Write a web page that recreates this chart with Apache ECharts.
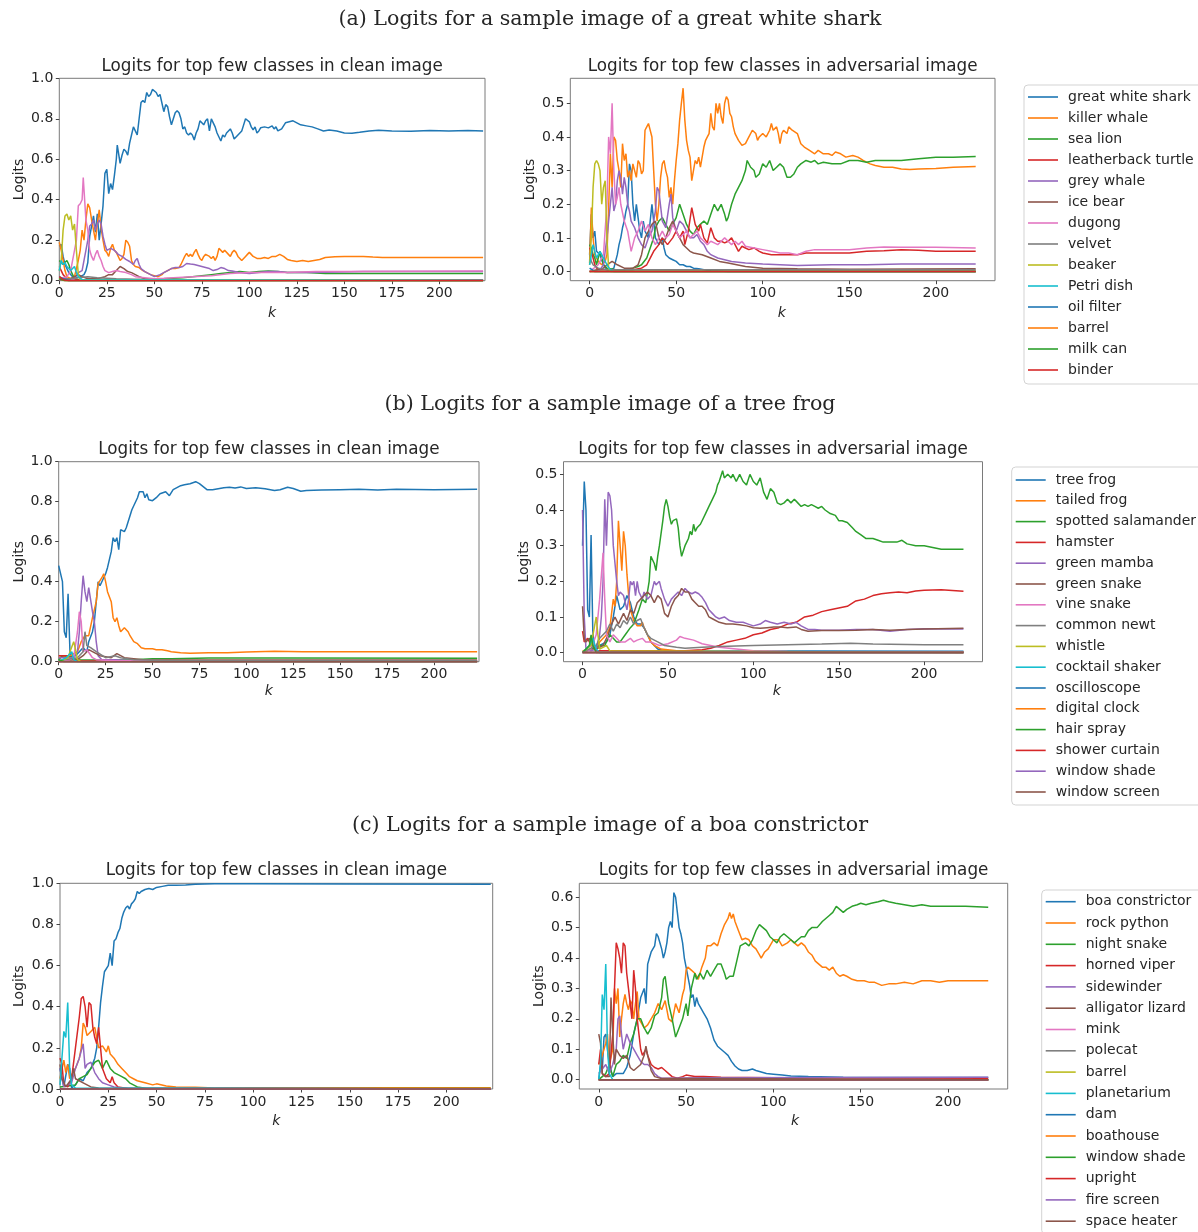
<!DOCTYPE html>
<html><head><meta charset="utf-8">
<script src="https://cdn.jsdelivr.net/npm/echarts@6/dist/echarts.min.js"></script>
<style>html,body{margin:0;padding:0;background:#fff;width:1198px;height:1232px;overflow:hidden}
.row{position:absolute;left:0;top:0;width:1198px;height:1232px;}
#rc{height:1400px;}</style>
</head><body>
<div id="ra" class="row"></div><div id="rb" class="row"></div><div id="rc" class="row"></div>
<script>
// ---------------- Row (a): great white shark ----------------
const aNames = ['great white shark','killer whale','sea lion','leatherback turtle','grey whale','ice bear','dugong','velvet','beaker','Petri dish','oil filter','barrel','milk can','binder'];
const aClean_greatWhiteShark = [[0,0.17],[1,0.18],[2,0.12],[3,0.08],[5,0.04],[7,0.02],[9,0.015],[11,0.02],[13,0.03],[14,0.05],[15,0.09],[16,0.22],[17,0.27],[18,0.32],[19,0.24],[20,0.33],[21,0.2],[22,0.28],[23,0.37],[24,0.53],[25,0.55],[26,0.43],[27,0.48],[28,0.45],[29,0.52],[30,0.6],[30.5,0.67],[31,0.64],[32,0.58],[33,0.62],[34,0.65],[35,0.64],[36,0.62],[37,0.68],[38,0.72],[39,0.76],[40,0.74],[41,0.72],[42,0.8],[43,0.88],[44,0.89],[45,0.88],[46,0.93],[47,0.91],[48,0.92],[49,0.945],[50,0.94],[51,0.93],[52,0.91],[53,0.92],[54,0.92],[55,0.835],[56,0.87],[57,0.86],[58,0.81],[59,0.77],[60,0.8],[61,0.83],[62,0.84],[63,0.83],[64,0.8],[65,0.75],[66,0.76],[67,0.73],[68,0.72],[69,0.73],[70,0.72],[71,0.695],[72,0.73],[73,0.75],[74,0.79],[75,0.78],[76,0.77],[77,0.79],[78,0.8],[79,0.74],[80,0.8],[81,0.78],[82,0.76],[83,0.73],[84,0.71],[85,0.69],[86,0.72],[87,0.71],[88,0.73],[89,0.74],[90,0.75],[91,0.73],[92,0.7],[93,0.71],[94,0.72],[95,0.73],[96,0.74],[97,0.77],[98,0.8],[99,0.8],[100,0.785],[101,0.76],[102,0.745],[103,0.76],[104,0.73],[105,0.74],[106,0.756],[108,0.76],[110,0.755],[112,0.765],[113,0.75],[114,0.76],[115,0.74],[117,0.75],[119,0.78],[121,0.785],[123,0.79],[125,0.78],[127,0.77],[130,0.765],[133,0.76],[136,0.75],[139,0.74],[142,0.745],[146,0.74],[150,0.73],[154,0.728],[158,0.733],[163,0.74],[168,0.743],[175,0.74],[185,0.738],[195,0.742],[205,0.74],[215,0.742],[223,0.74]];
const aClean_killerWhale = [[0,0.19],[1,0.15],[2,0.1],[3,0.05],[4,0.02],[6,0.01],[8,0.02],[10,0.1],[11,0.15],[12,0.25],[13,0.2],[14,0.3],[15,0.38],[16,0.36],[17,0.3],[18,0.25],[19,0.2],[20,0.28],[21,0.35],[22,0.26],[23,0.2],[24,0.15],[25,0.14],[26,0.12],[27,0.16],[28,0.18],[29,0.15],[30,0.14],[31,0.12],[32,0.1],[33,0.11],[34,0.13],[35,0.2],[36,0.19],[37,0.17],[38,0.1],[39,0.08],[40,0.07],[42,0.065],[44,0.05],[46,0.04],[48,0.03],[50,0.025],[52,0.02],[54,0.03],[55,0.04],[57,0.05],[59,0.06],[61,0.06],[63,0.065],[64,0.08],[65,0.1],[66,0.12],[67,0.135],[68,0.12],[69,0.13],[70,0.12],[71,0.14],[72,0.155],[73,0.13],[74,0.11],[75,0.1],[76,0.12],[77,0.13],[78,0.135],[79,0.12],[80,0.11],[81,0.12],[82,0.1],[83,0.12],[84,0.16],[85,0.155],[86,0.14],[87,0.15],[88,0.145],[89,0.13],[90,0.12],[91,0.14],[92,0.15],[93,0.14],[94,0.12],[95,0.11],[96,0.1],[97,0.11],[98,0.12],[99,0.13],[100,0.14],[101,0.13],[102,0.12],[103,0.115],[104,0.11],[106,0.11],[108,0.115],[110,0.11],[112,0.12],[114,0.12],[116,0.13],[118,0.12],[120,0.105],[122,0.1],[125,0.095],[128,0.1],[131,0.095],[134,0.1],[137,0.105],[140,0.115],[145,0.118],[150,0.12],[155,0.12],[160,0.12],[165,0.117],[170,0.115],[180,0.115],[190,0.115],[200,0.115],[210,0.115],[223,0.115]];
const aClean_seaLion = [[0,0.1],[1,0.09],[2,0.08],[3,0.09],[4,0.1],[5,0.08],[6,0.05],[7,0.03],[8,0.01],[10,0.005],[20,0.005],[30,0.005],[40,0.005],[50,0.008],[55,0.01],[60,0.012],[65,0.015],[70,0.02],[75,0.025],[80,0.03],[85,0.035],[90,0.04],[95,0.045],[100,0.04],[105,0.045],[110,0.048],[115,0.045],[120,0.04],[130,0.04],[140,0.035],[150,0.035],[170,0.035],[200,0.035],[223,0.035]];
const aClean_leatherbackTurtle = [[0,0.07],[1,0.05],[2,0.03],[3,0.02],[4,0.01],[6,0.005],[20,0.003],[223,0.002]];
const aClean_greyWhale = [[0,0.005],[8,0.01],[10,0.04],[12,0.05],[13,0.1],[14,0.15],[15,0.2],[16,0.27],[17,0.28],[18,0.3],[19,0.25],[20,0.28],[21,0.3],[22,0.28],[23,0.22],[24,0.18],[25,0.15],[26,0.155],[27,0.16],[29,0.15],[31,0.13],[33,0.12],[35,0.105],[37,0.095],[39,0.08],[40,0.1],[41,0.11],[42,0.08],[43,0.06],[45,0.045],[47,0.035],[50,0.02],[53,0.03],[55,0.04],[57,0.05],[59,0.06],[61,0.065],[63,0.065],[65,0.07],[67,0.085],[69,0.082],[71,0.08],[73,0.075],[75,0.07],[77,0.065],[79,0.06],[81,0.05],[83,0.055],[85,0.065],[87,0.06],[89,0.05],[91,0.048],[94,0.042],[97,0.038],[100,0.035],[105,0.04],[110,0.045],[115,0.045],[120,0.04],[130,0.04],[140,0.042],[160,0.045],[190,0.045],[223,0.045]];
const aClean_iceBear = [[0,0.005],[6,0.01],[8,0.02],[10,0.03],[12,0.02],[15,0.01],[20,0.01],[24,0.02],[26,0.03],[28,0.03],[30,0.05],[32,0.07],[34,0.06],[36,0.045],[38,0.04],[40,0.03],[42,0.02],[45,0.01],[50,0.005],[223,0.005]];
const aClean_dugong = [[0,0.01],[4,0.02],[6,0.05],[7,0.1],[8,0.15],[9,0.2],[10,0.37],[11,0.38],[12,0.4],[12.6,0.51],[13,0.45],[14,0.3],[15,0.25],[16,0.15],[17,0.12],[18,0.1],[19,0.13],[20,0.15],[21,0.12],[22,0.1],[23,0.07],[24,0.05],[26,0.04],[28,0.045],[30,0.05],[32,0.045],[35,0.04],[38,0.03],[40,0.02],[45,0.015],[50,0.01],[55,0.012],[60,0.015],[70,0.02],[80,0.025],[90,0.035],[100,0.04],[110,0.04],[120,0.04],[135,0.045],[150,0.045],[223,0.048]];
const aClean_velvet = [[0,0.01],[5,0.01],[10,0.015],[15,0.02],[20,0.015],[30,0.01],[50,0.005],[223,0.005]];
const aClean_beaker = [[0,0.05],[1,0.1],[2,0.25],[3,0.32],[4,0.33],[5,0.3],[6,0.32],[7,0.25],[8,0.28],[9,0.15],[10,0.03],[11,0.005],[223,0.0]];
const aClean_petriDish = [[0,0.05],[1,0.1],[2,0.08],[3,0.09],[4,0.07],[6,0.05],[8,0.07],[9,0.04],[10,0.02],[12,0.005],[223,0.0]];
const aClean_oilFilter = [[0,0.02],[2,0.01],[5,0.0],[223,0.0]];
const aClean_barrel = [[0,0.01],[3,0.0],[223,0.0]];
const aClean_milkCan = [[0,0.01],[3,0.0],[223,0.0]];
const aClean_binder = [[0,0.02],[2,0.005],[5,0.0],[223,0.0]];

const aAdv_greatWhiteShark = [[0,0.05],[1,0.17],[2,0.1],[3,0.12],[4,0.06],[5,0.06],[6,0.05],[8,0.02],[10,0.005],[12,0.005],[14,0.01],[15,0.03],[16,0.05],[17,0.08],[18,0.1],[19,0.13],[20,0.15],[21,0.18],[22,0.2],[23,0.32],[24,0.3],[25,0.2],[26,0.15],[27,0.2],[28,0.16],[29,0.12],[30,0.1],[31,0.15],[32,0.12],[33,0.11],[34,0.1],[35,0.15],[36,0.2],[37,0.15],[38,0.1],[39,0.09],[40,0.08],[41,0.09],[42,0.1],[43,0.07],[44,0.05],[46,0.04],[48,0.035],[50,0.03],[52,0.02],[54,0.02],[56,0.015],[58,0.015],[60,0.01],[63,0.008],[66,0.005],[70,0.002],[80,0.0],[223,0.0]];
const aAdv_killerWhale = [[0,0.025],[1,0.19],[2,0.1],[3,0.05],[5,0.03],[7,0.02],[9,0.03],[10,0.05],[11,0.19],[12,0.35],[13,0.25],[14,0.4],[15,0.39],[16,0.33],[17,0.3],[18,0.25],[19,0.38],[20,0.33],[21,0.35],[22,0.28],[23,0.3],[24,0.27],[25,0.32],[26,0.3],[27,0.28],[28,0.33],[29,0.32],[30,0.29],[31,0.3],[32,0.42],[33,0.43],[34,0.44],[35,0.44],[36,0.4],[37,0.3],[38,0.2],[39,0.15],[40,0.2],[41,0.28],[42,0.32],[43,0.33],[44,0.3],[45,0.28],[46,0.22],[47,0.25],[48,0.2],[49,0.27],[50,0.33],[51,0.38],[52,0.45],[53,0.5],[54,0.545],[55,0.45],[56,0.39],[57,0.36],[58,0.34],[59,0.27],[60,0.265],[61,0.33],[62,0.32],[63,0.34],[64,0.31],[65,0.34],[66,0.37],[67,0.39],[68,0.4],[69,0.41],[70,0.47],[71,0.43],[72,0.42],[73,0.5],[74,0.47],[75,0.5],[76,0.46],[77,0.44],[78,0.5],[79,0.52],[80,0.51],[81,0.47],[82,0.46],[83,0.43],[84,0.41],[86,0.39],[88,0.375],[90,0.38],[92,0.4],[94,0.42],[96,0.41],[97,0.39],[98,0.4],[100,0.41],[102,0.4],[104,0.42],[105,0.44],[106,0.42],[108,0.43],[109,0.41],[110,0.38],[111,0.41],[112,0.42],[114,0.41],[115,0.43],[117,0.42],[120,0.41],[122,0.38],[124,0.37],[127,0.36],[130,0.35],[132,0.36],[135,0.35],[138,0.35],[140,0.345],[142,0.355],[145,0.35],[148,0.34],[152,0.345],[155,0.34],[158,0.33],[162,0.32],[165,0.315],[170,0.31],[175,0.31],[180,0.305],[185,0.303],[190,0.305],[200,0.306],[210,0.31],[223,0.312]];
const aAdv_seaLion = [[0,0.08],[1,0.07],[2,0.05],[3,0.04],[4,0.02],[5,0.04],[6,0.06],[7,0.04],[8,0.02],[10,0.01],[15,0.005],[20,0.005],[25,0.01],[28,0.015],[30,0.02],[33,0.04],[35,0.07],[37,0.1],[38,0.13],[40,0.15],[42,0.16],[44,0.14],[46,0.12],[48,0.14],[50,0.16],[52,0.2],[54,0.17],[56,0.14],[58,0.12],[60,0.11],[62,0.13],[64,0.14],[66,0.15],[68,0.14],[70,0.17],[72,0.2],[74,0.18],[76,0.2],[78,0.17],[79,0.15],[80,0.16],[82,0.2],[84,0.23],[86,0.25],[88,0.27],[90,0.3],[91,0.33],[93,0.31],[95,0.3],[96,0.28],[98,0.29],[100,0.32],[102,0.31],[104,0.33],[106,0.3],[108,0.31],[110,0.32],[112,0.31],[114,0.28],[116,0.28],[118,0.29],[120,0.31],[122,0.32],[125,0.33],[128,0.325],[130,0.33],[132,0.32],[135,0.325],[140,0.32],[145,0.32],[150,0.33],[155,0.33],[160,0.325],[165,0.33],[170,0.33],[180,0.33],[190,0.335],[200,0.34],[210,0.34],[223,0.342]];
const aAdv_leatherbackTurtle = [[0,0.07],[1,0.06],[2,0.04],[3,0.02],[4,0.01],[6,0.005],[15,0.005],[25,0.005],[30,0.01],[33,0.02],[35,0.04],[37,0.06],[40,0.08],[42,0.1],[45,0.08],[48,0.1],[50,0.12],[52,0.1],[54,0.12],[55,0.08],[57,0.12],[59,0.19],[61,0.14],[63,0.12],[64,0.14],[66,0.1],[68,0.085],[70,0.13],[72,0.1],[74,0.09],[76,0.09],[78,0.085],[80,0.09],[82,0.1],[84,0.08],[86,0.06],[88,0.075],[90,0.07],[92,0.065],[95,0.07],[98,0.06],[100,0.055],[105,0.05],[110,0.05],[115,0.05],[120,0.05],[125,0.055],[130,0.055],[140,0.055],[150,0.055],[160,0.06],[170,0.062],[180,0.065],[190,0.063],[200,0.06],[223,0.06]];
const aAdv_greyWhale = [[0,0.0],[6,0.005],[8,0.02],[10,0.1],[11,0.15],[12,0.2],[13,0.25],[14,0.18],[15,0.2],[16,0.27],[17,0.3],[18,0.28],[19,0.23],[20,0.28],[21,0.25],[22,0.2],[23,0.18],[24,0.15],[26,0.13],[28,0.1],[30,0.08],[32,0.07],[34,0.1],[36,0.12],[38,0.18],[39,0.25],[40,0.24],[42,0.15],[44,0.13],[46,0.2],[47,0.23],[48,0.16],[50,0.12],[52,0.15],[54,0.14],[56,0.12],[58,0.1],[60,0.1],[62,0.11],[64,0.09],[66,0.08],[68,0.06],[70,0.05],[74,0.04],[78,0.035],[82,0.03],[90,0.025],[100,0.022],[110,0.02],[120,0.018],[140,0.02],[160,0.02],[180,0.022],[223,0.022]];
const aAdv_iceBear = [[0,0.0],[8,0.01],[10,0.02],[13,0.03],[16,0.02],[20,0.01],[25,0.01],[28,0.02],[30,0.05],[32,0.1],[34,0.12],[36,0.14],[38,0.15],[40,0.1],[42,0.08],[44,0.1],[46,0.13],[48,0.15],[50,0.12],[52,0.1],[54,0.08],[56,0.07],[58,0.06],[60,0.055],[65,0.05],[70,0.04],[75,0.03],[80,0.025],[85,0.02],[90,0.015],[100,0.01],[120,0.008],[150,0.007],[223,0.008]];
const aAdv_dugong = [[0,0.0],[5,0.02],[8,0.05],[10,0.2],[11,0.4],[12,0.35],[13,0.5],[14,0.3],[15,0.2],[16,0.22],[17,0.25],[18,0.2],[20,0.15],[22,0.12],[24,0.06],[26,0.1],[28,0.12],[30,0.15],[32,0.12],[34,0.14],[36,0.1],[38,0.08],[40,0.1],[42,0.12],[44,0.1],[46,0.11],[48,0.14],[50,0.12],[52,0.1],[54,0.11],[56,0.12],[58,0.1],[60,0.11],[62,0.12],[64,0.1],[66,0.09],[68,0.08],[70,0.09],[72,0.085],[74,0.08],[76,0.09],[78,0.1],[80,0.09],[82,0.08],[84,0.09],[86,0.08],[88,0.09],[90,0.075],[95,0.07],[100,0.065],[105,0.06],[110,0.055],[115,0.055],[120,0.05],[125,0.06],[130,0.065],[140,0.065],[150,0.065],[160,0.07],[170,0.073],[180,0.072],[200,0.072],[223,0.07]];
const aAdv_velvet = [[0,0.05],[1,0.03],[2,0.02],[5,0.01],[10,0.005],[223,0.005]];
const aAdv_beaker = [[0,0.02],[1,0.1],[2,0.25],[3,0.32],[4,0.33],[5,0.32],[6,0.3],[7,0.2],[8,0.25],[9,0.27],[10,0.1],[11,0.01],[12,0.0],[223,0.0]];
const aAdv_petriDish = [[0,0.02],[1,0.05],[2,0.08],[3,0.06],[4,0.04],[5,0.05],[6,0.06],[7,0.05],[8,0.04],[9,0.03],[10,0.02],[12,0.005],[14,0.0],[223,0.0]];
const aAdv_oilFilter = [[0,0.01],[3,0.0],[223,0.0]];
const aAdv_barrel = [[0,0.0],[223,0.0]];
const aAdv_milkCan = [[0,0.0],[223,0.0]];
const aAdv_binder = [[0,0.0],[223,0.0]];

// ---------------- Row (b): tree frog ----------------
const bNames = ['tree frog','tailed frog','spotted salamander','hamster','green mamba','green snake','vine snake','common newt','whistle','cocktail shaker','oscilloscope','digital clock','hair spray','shower curtain','window shade','window screen'];
const bClean_treeFrog = [[0,0.48],[1,0.47],[2,0.4],[3,0.15],[4,0.12],[5,0.34],[6,0.05],[7,0.02],[9,0.03],[11,0.05],[13,0.07],[15,0.05],[16,0.1],[18,0.15],[19,0.2],[20,0.3],[21,0.4],[22,0.38],[23,0.4],[24,0.41],[25,0.44],[26,0.47],[27,0.48],[28,0.55],[29,0.62],[30,0.6],[31,0.62],[32,0.56],[33,0.66],[34,0.65],[35,0.65],[36,0.67],[37,0.7],[38,0.73],[39,0.76],[40,0.78],[41,0.8],[42,0.82],[43,0.85],[44,0.86],[45,0.85],[46,0.82],[47,0.84],[48,0.81],[50,0.805],[52,0.82],[54,0.84],[55,0.85],[57,0.85],[59,0.83],[61,0.86],[63,0.87],[65,0.88],[67,0.885],[70,0.89],[73,0.9],[75,0.89],[77,0.875],[79,0.86],[82,0.86],[85,0.865],[88,0.87],[91,0.872],[94,0.868],[97,0.874],[100,0.866],[105,0.87],[110,0.865],[115,0.856],[118,0.86],[122,0.872],[125,0.866],[129,0.852],[132,0.856],[140,0.858],[150,0.86],[160,0.862],[170,0.858],[180,0.862],[200,0.86],[223,0.862]];
const bClean_tailedFrog = [[0,0.02],[3,0.03],[5,0.02],[8,0.04],[10,0.05],[12,0.1],[14,0.13],[16,0.13],[18,0.22],[19,0.21],[20,0.3],[21,0.39],[22,0.4],[23,0.42],[24,0.44],[25,0.4],[26,0.35],[27,0.34],[28,0.3],[29,0.22],[30,0.2],[31,0.22],[32,0.18],[33,0.15],[34,0.16],[35,0.17],[36,0.16],[37,0.15],[38,0.13],[40,0.1],[42,0.09],[44,0.07],[46,0.065],[50,0.065],[52,0.06],[55,0.06],[58,0.055],[60,0.05],[65,0.045],[70,0.042],[80,0.045],[90,0.045],[100,0.048],[115,0.052],[130,0.05],[150,0.05],[180,0.05],[223,0.05]];
const bClean_spottedSalamander = [[0,0.01],[2,0.03],[3,0.04],[5,0.03],[7,0.02],[10,0.01],[20,0.008],[30,0.008],[40,0.01],[50,0.015],[60,0.015],[80,0.018],[120,0.018],[223,0.017]];
const bClean_hamster = [[0,0.03],[2,0.03],[3,0.04],[4,0.03],[6,0.02],[8,0.01],[12,0.005],[223,0.003]];
const bClean_greenMamba = [[0,0.02],[6,0.02],[8,0.02],[10,0.05],[11,0.15],[12,0.3],[13,0.43],[14,0.35],[15,0.3],[16,0.37],[17,0.38],[18,0.25],[19,0.2],[20,0.1],[21,0.03],[23,0.01],[30,0.01],[40,0.005],[223,0.005]];
const bClean_greenSnake = [[0,0.005],[10,0.01],[13,0.03],[16,0.06],[18,0.05],[20,0.04],[22,0.03],[25,0.025],[28,0.02],[31,0.04],[33,0.03],[35,0.02],[40,0.015],[45,0.01],[60,0.008],[223,0.008]];
const bClean_vineSnake = [[0,0.005],[6,0.01],[8,0.02],[10,0.15],[11,0.25],[12,0.2],[13,0.05],[15,0.06],[16,0.07],[18,0.02],[20,0.01],[30,0.005],[223,0.005]];
const bClean_commonNewt = [[0,0.005],[10,0.02],[13,0.05],[14,0.15],[15,0.08],[17,0.07],[20,0.05],[25,0.02],[30,0.03],[31,0.04],[33,0.02],[40,0.01],[60,0.005],[223,0.005]];
const bClean_whistle = [[0,0.0],[5,0.02],[6,0.05],[8,0.1],[9,0.06],[10,0.01],[12,0.0],[223,0.0]];
const bClean_cocktailShaker = [[0,0.0],[4,0.02],[5,0.03],[7,0.05],[8,0.01],[10,0.0],[223,0.0]];
const bClean_oscilloscope = [[0,0.0],[223,0.0]];
const bClean_digitalClock = [[0,0.0],[223,0.0]];
const bClean_hairSpray = [[0,0.01],[3,0.0],[223,0.0]];
const bClean_showerCurtain = [[0,0.0],[223,0.0]];
const bClean_windowShade = [[0,0.0],[223,0.0]];
const bClean_windowScreen = [[0,0.0],[223,0.0]];

const bAdv_treeFrog = [[0,0.3],[1,0.48],[2,0.4],[3,0.12],[4,0.1],[5,0.33],[6,0.06],[7,0.01],[10,0.02],[14,0.03],[16,0.05],[18,0.1],[20,0.16],[22,0.12],[24,0.13],[26,0.16],[28,0.14],[30,0.1],[32,0.08],[34,0.08],[36,0.07],[38,0.05],[40,0.03],[44,0.01],[48,0.005],[223,0.004]];
const bAdv_tailedFrog = [[0,0.005],[8,0.01],[10,0.03],[14,0.05],[16,0.07],[18,0.15],[19,0.13],[20,0.2],[21,0.37],[22,0.3],[23,0.23],[24,0.34],[25,0.3],[26,0.22],[27,0.16],[28,0.12],[30,0.09],[32,0.075],[34,0.075],[35,0.085],[36,0.07],[38,0.05],[40,0.03],[42,0.02],[46,0.01],[55,0.005],[60,0.005],[70,0.003],[223,0.002]];
const bAdv_spottedSalamander = [[0,0.0],[5,0.01],[10,0.02],[13,0.02],[16,0.05],[18,0.04],[20,0.03],[22,0.03],[25,0.05],[28,0.07],[30,0.08],[33,0.12],[35,0.15],[37,0.14],[38,0.17],[39,0.2],[40,0.27],[41,0.27],[42,0.25],[43,0.23],[44,0.27],[45,0.3],[46,0.3],[47,0.37],[48,0.41],[49,0.43],[50,0.41],[51,0.38],[52,0.36],[53,0.37],[55,0.375],[56,0.35],[57,0.3],[58,0.27],[59,0.27],[60,0.3],[61,0.31],[62,0.32],[63,0.34],[64,0.33],[65,0.36],[66,0.34],[67,0.35],[69,0.36],[70,0.37],[72,0.39],[74,0.41],[76,0.43],[78,0.45],[79,0.47],[80,0.48],[82,0.51],[83,0.49],[85,0.5],[87,0.49],[88,0.5],[90,0.48],[92,0.5],[94,0.48],[96,0.47],[98,0.5],[100,0.48],[102,0.47],[104,0.49],[106,0.45],[108,0.43],[110,0.46],[112,0.45],[114,0.42],[116,0.415],[118,0.42],[120,0.43],[122,0.42],[124,0.43],[126,0.42],[128,0.41],[130,0.415],[132,0.41],[134,0.415],[136,0.41],[138,0.405],[140,0.41],[142,0.4],[145,0.39],[148,0.385],[150,0.37],[152,0.37],[155,0.365],[158,0.35],[160,0.34],[163,0.33],[166,0.32],[170,0.32],[173,0.315],[176,0.31],[180,0.31],[184,0.31],[187,0.315],[190,0.305],[195,0.3],[200,0.3],[205,0.295],[210,0.29],[215,0.29],[220,0.29],[223,0.29]];
const bAdv_hamster = [[0,0.06],[1,0.03],[3,0.04],[5,0.02],[8,0.005],[30,0.005],[50,0.005],[60,0.005],[70,0.008],[75,0.012],[80,0.02],[85,0.03],[90,0.035],[95,0.04],[100,0.05],[105,0.055],[110,0.065],[115,0.07],[120,0.08],[125,0.085],[130,0.1],[135,0.105],[140,0.115],[145,0.12],[150,0.125],[155,0.13],[160,0.145],[165,0.15],[170,0.16],[175,0.165],[180,0.168],[185,0.17],[190,0.168],[195,0.173],[200,0.175],[210,0.176],[223,0.172]];
const bAdv_greenMamba = [[0,0.4],[1,0.1],[2,0.01],[5,0.005],[8,0.01],[10,0.05],[11,0.1],[12,0.2],[13,0.43],[14,0.3],[15,0.45],[16,0.44],[17,0.4],[18,0.3],[19,0.25],[20,0.2],[21,0.16],[22,0.17],[24,0.16],[26,0.12],[27,0.15],[28,0.2],[29,0.19],[30,0.2],[31,0.16],[32,0.2],[33,0.17],[35,0.15],[36,0.17],[38,0.15],[40,0.16],[42,0.2],[43,0.19],[45,0.2],[46,0.18],[48,0.15],[50,0.13],[52,0.15],[54,0.16],[56,0.17],[58,0.16],[60,0.18],[62,0.17],[64,0.165],[66,0.17],[68,0.165],[70,0.155],[72,0.14],[74,0.12],[76,0.11],[78,0.1],[80,0.095],[83,0.1],[86,0.09],[90,0.085],[94,0.085],[97,0.08],[100,0.075],[104,0.08],[107,0.09],[110,0.085],[114,0.08],[118,0.085],[122,0.08],[125,0.085],[128,0.075],[132,0.065],[136,0.065],[140,0.063],[150,0.063],[160,0.065],[170,0.065],[180,0.06],[190,0.065],[200,0.067],[223,0.066]];
const bAdv_greenSnake = [[0,0.13],[1,0.04],[2,0.03],[4,0.04],[6,0.02],[8,0.01],[12,0.02],[15,0.05],[17,0.08],[19,0.1],[21,0.08],[24,0.11],[26,0.09],[28,0.12],[30,0.11],[32,0.14],[34,0.15],[36,0.16],[38,0.17],[40,0.16],[42,0.14],[44,0.16],[46,0.15],[48,0.11],[50,0.1],[52,0.13],[54,0.15],[56,0.16],[58,0.18],[60,0.17],[62,0.17],[64,0.15],[66,0.14],[68,0.13],[70,0.13],[72,0.12],[74,0.1],[76,0.095],[80,0.085],[84,0.08],[88,0.08],[92,0.078],[96,0.075],[100,0.07],[104,0.068],[108,0.07],[112,0.072],[116,0.072],[120,0.07],[125,0.072],[128,0.065],[132,0.06],[140,0.062],[150,0.062],[160,0.063],[170,0.065],[180,0.063],[190,0.065],[200,0.066],[223,0.068]];
const bAdv_vineSnake = [[0,0.0],[5,0.01],[8,0.05],[10,0.15],[12,0.28],[13,0.15],[14,0.05],[16,0.03],[18,0.05],[20,0.04],[22,0.03],[25,0.03],[28,0.04],[30,0.03],[32,0.035],[35,0.04],[37,0.03],[40,0.03],[45,0.02],[50,0.025],[55,0.035],[57,0.045],[60,0.04],[65,0.035],[70,0.025],[75,0.02],[80,0.015],[90,0.01],[100,0.005],[120,0.003],[223,0.002]];
const bAdv_commonNewt = [[0,0.0],[8,0.02],[10,0.04],[14,0.06],[16,0.08],[18,0.06],[20,0.08],[22,0.07],[24,0.09],[26,0.08],[28,0.1],[30,0.08],[32,0.09],[34,0.095],[36,0.07],[38,0.05],[40,0.04],[44,0.03],[48,0.02],[55,0.015],[60,0.012],[70,0.015],[80,0.017],[100,0.02],[120,0.022],[140,0.024],[157,0.026],[170,0.024],[200,0.022],[223,0.022]];
const bAdv_whistle = [[0,0.0],[5,0.02],[8,0.1],[9,0.05],[10,0.01],[14,0.02],[16,0.005],[223,0.0]];
const bAdv_cocktailShaker = [[0,0.0],[4,0.02],[6,0.04],[8,0.01],[10,0.0],[223,0.0]];
const bAdv_oscilloscope = [[0,0.0],[223,0.0]];
const bAdv_digitalClock = [[0,0.0],[223,0.0]];
const bAdv_hairSpray = [[0,0.0],[4,0.02],[5,0.05],[6,0.02],[8,0.0],[223,0.0]];
const bAdv_showerCurtain = [[0,0.0],[223,0.0]];
const bAdv_windowShade = [[0,0.0],[223,0.0]];
const bAdv_windowScreen = [[0,0.0],[223,0.0]];

// ---------------- Row (c): boa constrictor ----------------
const cNames = ['boa constrictor','rock python','night snake','horned viper','sidewinder','alligator lizard','mink','polecat','barrel','planetarium','dam','boathouse','window shade','upright','fire screen','space heater'];
const cClean_boaConstrictor = [[0,0.1],[1,0.05],[2,0.01],[4,0.12],[5,0.1],[6,0.005],[8,0.02],[10,0.05],[12,0.04],[14,0.08],[16,0.1],[18,0.15],[19,0.2],[20,0.3],[21,0.42],[22,0.5],[23,0.57],[24,0.575],[25,0.6],[26,0.66],[27,0.6],[28,0.72],[29,0.73],[30,0.76],[31,0.78],[32,0.83],[33,0.86],[34,0.88],[35,0.89],[36,0.875],[37,0.9],[38,0.91],[39,0.925],[40,0.96],[41,0.95],[42,0.96],[44,0.97],[46,0.975],[48,0.97],[50,0.98],[53,0.985],[56,0.99],[60,0.99],[65,0.992],[70,0.995],[80,0.998],[100,0.998],[150,0.997],[223,0.995]];
const cClean_rockPython = [[0,0.05],[2,0.14],[3,0.08],[4,0.12],[5,0.05],[8,0.1],[10,0.15],[11,0.2],[12,0.32],[13,0.3],[14,0.26],[16,0.28],[18,0.3],[20,0.2],[22,0.21],[24,0.18],[25,0.21],[26,0.17],[28,0.15],[30,0.12],[32,0.1],[34,0.08],[36,0.06],[38,0.05],[40,0.04],[44,0.03],[48,0.02],[50,0.025],[55,0.015],[60,0.01],[70,0.008],[80,0.005],[100,0.006],[223,0.006]];
const cClean_nightSnake = [[0,0.01],[8,0.02],[10,0.05],[12,0.06],[14,0.07],[16,0.1],[18,0.13],[20,0.14],[22,0.1],[24,0.14],[26,0.1],[28,0.08],[30,0.07],[32,0.06],[34,0.05],[36,0.03],[38,0.02],[40,0.01],[45,0.003],[223,0.002]];
const cClean_hornedViper = [[0,0.15],[1,0.12],[2,0.02],[4,0.01],[6,0.05],[8,0.2],[10,0.35],[11,0.44],[12,0.45],[13,0.4],[14,0.3],[15,0.42],[16,0.41],[17,0.3],[18,0.25],[19,0.22],[20,0.3],[21,0.2],[22,0.1],[24,0.05],[26,0.03],[27,0.06],[28,0.03],[30,0.01],[35,0.003],[223,0.0]];
const cClean_sidewinder = [[0,0.1],[2,0.01],[6,0.03],[8,0.1],[10,0.15],[12,0.22],[13,0.1],[14,0.12],[16,0.13],[18,0.08],[20,0.05],[22,0.03],[25,0.02],[28,0.01],[32,0.005],[223,0.0]];
const cClean_alligatorLizard = [[0,0.12],[1,0.05],[3,0.01],[6,0.05],[7,0.1],[8,0.05],[10,0.04],[12,0.03],[14,0.02],[16,0.01],[20,0.005],[223,0.0]];
const cClean_mink = [[0,0.0],[223,0.0]];
const cClean_polecat = [[0,0.0],[223,0.0]];
const cClean_barrel = [[0,0.0],[223,0.0]];
const cClean_planetarium = [[0,0.02],[1,0.15],[2,0.28],[3,0.25],[4,0.42],[5,0.1],[6,0.02],[8,0.005],[223,0.0]];
const cClean_dam = [[0,0.0],[223,0.0]];
const cClean_boathouse = [[0,0.0],[223,0.0]];
const cClean_windowShade = [[0,0.0],[223,0.0]];
const cClean_upright = [[0,0.0],[223,0.0]];
const cClean_fireScreen = [[0,0.0],[223,0.0]];
const cClean_spaceHeater = [[0,0.0],[223,0.0]];

const cAdv_boaConstrictor = [[0,0.0],[1,0.05],[2,0.03],[3,0.14],[4,0.15],[5,0.1],[6,0.05],[8,0.01],[10,0.02],[12,0.02],[14,0.02],[16,0.04],[18,0.08],[20,0.15],[22,0.2],[24,0.27],[26,0.3],[27,0.25],[28,0.38],[29,0.4],[30,0.42],[32,0.44],[33,0.48],[34,0.47],[35,0.45],[36,0.43],[37,0.4],[38,0.42],[39,0.45],[40,0.5],[41,0.52],[42,0.5],[43,0.615],[44,0.6],[45,0.55],[46,0.5],[47,0.48],[48,0.45],[49,0.4],[50,0.37],[51,0.37],[52,0.31],[53,0.27],[54,0.28],[55,0.24],[56,0.27],[57,0.25],[58,0.24],[60,0.22],[62,0.2],[64,0.17],[66,0.13],[68,0.11],[70,0.1],[72,0.09],[74,0.08],[76,0.06],[78,0.045],[80,0.035],[82,0.03],[85,0.03],[88,0.035],[90,0.03],[93,0.025],[96,0.02],[100,0.018],[105,0.015],[110,0.012],[120,0.01],[140,0.008],[160,0.007],[223,0.007]];
const cAdv_rockPython = [[0,0.05],[2,0.08],[4,0.12],[5,0.15],[6,0.05],[8,0.1],[9,0.3],[10,0.25],[11,0.3],[12,0.14],[13,0.2],[14,0.25],[15,0.28],[16,0.25],[17,0.23],[18,0.26],[19,0.25],[20,0.2],[21,0.25],[22,0.29],[23,0.2],[24,0.19],[26,0.17],[28,0.18],[30,0.2],[32,0.22],[34,0.25],[36,0.23],[38,0.26],[40,0.2],[42,0.19],[44,0.25],[46,0.22],[48,0.28],[49,0.3],[50,0.36],[51,0.37],[53,0.36],[55,0.35],[57,0.33],[59,0.37],[61,0.4],[62,0.44],[64,0.44],[66,0.45],[68,0.44],[70,0.48],[72,0.51],[74,0.53],[75,0.55],[76,0.53],[77,0.545],[78,0.52],[80,0.49],[82,0.46],[84,0.465],[86,0.46],[88,0.44],[90,0.43],[92,0.41],[93,0.4],[95,0.42],[97,0.43],[100,0.46],[103,0.46],[105,0.44],[108,0.45],[110,0.46],[112,0.45],[114,0.44],[116,0.45],[118,0.44],[120,0.42],[122,0.41],[124,0.39],[126,0.38],[128,0.37],[130,0.37],[132,0.36],[134,0.37],[136,0.35],[138,0.34],[140,0.345],[142,0.34],[145,0.33],[148,0.325],[152,0.325],[155,0.32],[158,0.32],[162,0.31],[166,0.315],[170,0.315],[175,0.32],[180,0.315],[185,0.325],[190,0.325],[195,0.32],[200,0.325],[210,0.325],[223,0.325]];
const cAdv_nightSnake = [[0,0.0],[4,0.02],[6,0.05],[8,0.01],[10,0.05],[12,0.06],[14,0.08],[16,0.07],[18,0.12],[20,0.15],[22,0.2],[24,0.2],[26,0.17],[28,0.15],[30,0.17],[32,0.21],[34,0.22],[36,0.27],[37,0.33],[38,0.34],[40,0.25],[42,0.2],[44,0.14],[46,0.17],[48,0.2],[50,0.25],[51,0.21],[53,0.3],[55,0.35],[56,0.33],[58,0.35],[60,0.33],[62,0.36],[64,0.34],[66,0.36],[68,0.38],[70,0.38],[72,0.35],[73,0.33],[75,0.34],[77,0.34],[79,0.39],[81,0.44],[84,0.45],[86,0.44],[88,0.46],[90,0.49],[92,0.51],[94,0.5],[96,0.49],[98,0.47],[100,0.46],[102,0.45],[104,0.47],[106,0.48],[108,0.47],[110,0.46],[112,0.45],[114,0.46],[116,0.47],[118,0.47],[120,0.49],[122,0.5],[125,0.5],[128,0.52],[130,0.53],[132,0.54],[134,0.55],[136,0.57],[138,0.56],[140,0.55],[142,0.56],[145,0.57],[148,0.575],[150,0.58],[153,0.575],[156,0.58],[160,0.585],[163,0.59],[166,0.585],[170,0.58],[175,0.575],[180,0.57],[185,0.575],[190,0.57],[200,0.57],[210,0.57],[223,0.567]];
const cAdv_hornedViper = [[0,0.05],[1,0.1],[2,0.02],[4,0.01],[6,0.02],[8,0.15],[9,0.3],[10,0.45],[11,0.43],[12,0.4],[13,0.35],[14,0.45],[15,0.44],[16,0.35],[17,0.3],[18,0.25],[19,0.2],[20,0.36],[21,0.3],[22,0.2],[23,0.15],[24,0.1],[25,0.08],[26,0.09],[27,0.1],[28,0.08],[30,0.05],[32,0.04],[34,0.035],[36,0.04],[38,0.03],[40,0.02],[42,0.01],[45,0.005],[48,0.01],[50,0.015],[55,0.01],[60,0.01],[70,0.008],[100,0.006],[223,0.005]];
const cAdv_sidewinder = [[0,0.02],[4,0.05],[6,0.02],[8,0.05],[10,0.1],[11,0.2],[12,0.21],[13,0.15],[14,0.1],[16,0.15],[18,0.12],[20,0.1],[22,0.08],[24,0.06],[26,0.05],[28,0.05],[30,0.04],[32,0.02],[34,0.01],[36,0.005],[60,0.006],[223,0.008]];
const cAdv_alligatorLizard = [[0,0.15],[1,0.12],[2,0.02],[4,0.01],[6,0.01],[7,0.27],[8,0.15],[9,0.05],[10,0.1],[12,0.08],[14,0.07],[16,0.08],[18,0.04],[20,0.03],[22,0.04],[24,0.05],[26,0.08],[27,0.11],[28,0.08],[30,0.03],[32,0.01],[35,0.005],[223,0.0]];
const cAdv_mink = [[0,0.0],[223,0.0]];
const cAdv_polecat = [[0,0.0],[223,0.0]];
const cAdv_barrel = [[0,0.0],[223,0.0]];
const cAdv_planetarium = [[0,0.0],[1,0.05],[2,0.28],[3,0.23],[4,0.38],[5,0.1],[6,0.02],[8,0.0],[223,0.0]];
const cAdv_dam = [[0,0.0],[223,0.0]];
const cAdv_boathouse = [[0,0.0],[223,0.0]];
const cAdv_windowShade = [[0,0.0],[223,0.0]];
const cAdv_upright = [[0,0.0],[223,0.0]];
const cAdv_fireScreen = [[0,0.0],[223,0.0]];
const cAdv_spaceHeater = [[0,0.0],[223,0.0]];

// axis tick labels
const cleanXTicks = [0,25,50,75,100,125,150,175,200];
const advXTicks = [0,50,100,150,200];
const cleanYTicks = [0,0.2,0.4,0.6,0.8,1.0];
const aAdvYTicks = [0,0.1,0.2,0.3,0.4,0.5];
const bAdvYTicks = [0,0.1,0.2,0.3,0.4,0.5];
const cAdvYTicks = [0,0.1,0.2,0.3,0.4,0.5,0.6];

const sectionTitles = ['(a) Logits for a sample image of a great white shark','(b) Logits for a sample image of a tree frog','(c) Logits for a sample image of a boa constrictor'];
const cleanTitle = 'Logits for top few classes in clean image';
const advTitle = 'Logits for top few classes in adversarial image';

// ---------------- rendering ----------------
const TAB10 = ['#1f77b4','#ff7f0e','#2ca02c','#d62728','#9467bd','#8c564b','#e377c2','#7f7f7f','#bcbd22','#17becf'];
const FONT = '"DejaVu Sans", sans-serif';
const TXT = '#262626';
const FRAME = '#7a7a7a';
const LEGEND_ICON = 'path://M0,0 L30,0 L30,1.6 L0,1.6 Z';

function xAxis(gi, min, max, ticks){
  return {type:'value', gridIndex:gi, min:min, max:max,
    axisLine:{show:false, onZero:false}, splitLine:{show:false},
    axisTick:{show:true, inside:false, length:3.5, customValues:ticks, lineStyle:{color:'#444', width:1}},
    axisLabel:{show:true, customValues:ticks, margin:6, fontSize:14, color:TXT, fontFamily:FONT, formatter:v=>String(Math.round(v))}};
}
function yAxis(gi, min, max, ticks){
  return {type:'value', gridIndex:gi, min:min, max:max,
    axisLine:{show:false, onZero:false}, splitLine:{show:false},
    axisTick:{show:true, inside:false, length:3.5, customValues:ticks, lineStyle:{color:'#444', width:1}},
    axisLabel:{show:true, customValues:ticks, margin:6, fontSize:14, color:TXT, fontFamily:FONT, formatter:v=>(Math.round(v*10)/10).toFixed(1)}};
}
function text(x,y,t,font,extra){
  return Object.assign({type:'text', x:x, y:y, silent:true, style:{text:t, font:font, fill:TXT, textAlign:'center', textVerticalAlign:'middle', align:'center', verticalAlign:'middle'}}, extra||{});
}

function buildRow(elId, R){
  const chart = echarts.init(document.getElementById(elId), null, {renderer:'canvas'});
  const g0 = R.g[0], g1 = R.g[1];
  const series = [];
  R.names.forEach((n,i)=>{
    const col = TAB10[i%10];
    series.push({type:'line', name:n, xAxisIndex:0, yAxisIndex:0, data:R.clean[i], symbol:'none', showSymbol:false,
      lineStyle:{width:1.5, color:col}, itemStyle:{color:col}, animation:false});
  });
  R.names.forEach((n,i)=>{
    const col = TAB10[i%10];
    series.push({type:'line', name:n, xAxisIndex:1, yAxisIndex:1, data:R.adv[i], symbol:'none', showSymbol:false,
      lineStyle:{width:1.5, color:col}, itemStyle:{color:col}, animation:false});
  });
  const gcx0 = g0.left + g0.width/2, gcx1 = g1.left + g1.width/2;
  chart.setOption({
    animation:false,
    backgroundColor:'transparent',
    grid:[
      {left:g0.left, top:g0.top, width:g0.width, height:g0.height, show:true, borderColor:FRAME, borderWidth:1, backgroundColor:'transparent', containLabel:false},
      {left:g1.left, top:g1.top, width:g1.width, height:g1.height, show:true, borderColor:FRAME, borderWidth:1, backgroundColor:'transparent', containLabel:false}
    ],
    xAxis:[xAxis(0,0,224,cleanXTicks), xAxis(1,-11.15,234.15,advXTicks)],
    yAxis:[yAxis(0,0,1,cleanYTicks), yAxis(1,R.advY[0],R.advY[1],R.advYTicks)],
    legend:{orient:'vertical', left:R.leg.left, top:R.leg.top, itemWidth:30, itemHeight:14, itemGap:R.leg.gap,
      icon:LEGEND_ICON, symbolKeepAspect:true,
      padding:[R.leg.padTop,250,R.leg.padBottom,4], borderColor:'#d3d3d3', borderWidth:1, borderRadius:4,
      backgroundColor:'rgba(255,255,255,0.8)', selectedMode:false,
      textStyle:{fontSize:14, color:TXT, fontFamily:FONT, padding:[0,0,0,5]},
      data:R.names},
    graphic:[
      text(610, R.sectionY, R.section, '20.6px "DejaVu Serif", serif'),
      text(gcx0, R.subY, cleanTitle, '16.8px '+FONT),
      text(gcx1, R.subY, advTitle, '16.8px '+FONT),
      text(R.logitsX[0], g0.top+g0.height/2, 'Logits', '14px '+FONT, {rotation:Math.PI/2}),
      text(R.logitsX[1], g1.top+g1.height/2, 'Logits', '14px '+FONT, {rotation:Math.PI/2}),
      text(gcx0, R.kY, 'k', 'italic 14px '+FONT),
      text(R.kX1, R.kY, 'k', 'italic 14px '+FONT)
    ],
    series:series
  });
}

buildRow('ra', {
  names:aNames,
  clean:[aClean_greatWhiteShark,aClean_killerWhale,aClean_seaLion,aClean_leatherbackTurtle,aClean_greyWhale,aClean_iceBear,aClean_dugong,aClean_velvet,aClean_beaker,aClean_petriDish,aClean_oilFilter,aClean_barrel,aClean_milkCan,aClean_binder],
  adv:[aAdv_greatWhiteShark,aAdv_killerWhale,aAdv_seaLion,aAdv_leatherbackTurtle,aAdv_greyWhale,aAdv_iceBear,aAdv_dugong,aAdv_velvet,aAdv_beaker,aAdv_petriDish,aAdv_oilFilter,aAdv_barrel,aAdv_milkCan,aAdv_binder],
  g:[{left:59.3,top:78.3,width:425.7,height:202.4},{left:570.3,top:78.3,width:424.7,height:202.4}],
  advY:[-0.02735,0.57435], advYTicks:aAdvYTicks,
  leg:{left:1024, top:85, gap:7, padTop:5, padBottom:7},
  section:sectionTitles[0], sectionY:20, subY:66.7, logitsX:[19.3,530], kY:313, kX1:781.7
});
buildRow('rb', {
  names:bNames,
  clean:[bClean_treeFrog,bClean_tailedFrog,bClean_spottedSalamander,bClean_hamster,bClean_greenMamba,bClean_greenSnake,bClean_vineSnake,bClean_commonNewt,bClean_whistle,bClean_cocktailShaker,bClean_oscilloscope,bClean_digitalClock,bClean_hairSpray,bClean_showerCurtain,bClean_windowShade,bClean_windowScreen],
  adv:[bAdv_treeFrog,bAdv_tailedFrog,bAdv_spottedSalamander,bAdv_hamster,bAdv_greenMamba,bAdv_greenSnake,bAdv_vineSnake,bAdv_commonNewt,bAdv_whistle,bAdv_cocktailShaker,bAdv_oscilloscope,bAdv_digitalClock,bAdv_hairSpray,bAdv_showerCurtain,bAdv_windowShade,bAdv_windowScreen],
  g:[{left:58.7,top:461.7,width:420.3,height:200},{left:563.5,top:461.7,width:419,height:200}],
  advY:[-0.0255,0.5355], advYTicks:bAdvYTicks,
  leg:{left:1011.7, top:467, gap:6.8, padTop:6, padBottom:6},
  section:sectionTitles[1], sectionY:405, subY:450, logitsX:[19.3,524.3], kY:691.7, kX1:776.7
});
buildRow('rc', {
  names:cNames,
  clean:[cClean_boaConstrictor,cClean_rockPython,cClean_nightSnake,cClean_hornedViper,cClean_sidewinder,cClean_alligatorLizard,cClean_mink,cClean_polecat,cClean_barrel,cClean_planetarium,cClean_dam,cClean_boathouse,cClean_windowShade,cClean_upright,cClean_fireScreen,cClean_spaceHeater],
  adv:[cAdv_boaConstrictor,cAdv_rockPython,cAdv_nightSnake,cAdv_hornedViper,cAdv_sidewinder,cAdv_alligatorLizard,cAdv_mink,cAdv_polecat,cAdv_barrel,cAdv_planetarium,cAdv_dam,cAdv_boathouse,cAdv_windowShade,cAdv_upright,cAdv_fireScreen,cAdv_spaceHeater],
  g:[{left:60,top:883.3,width:432.7,height:205.7},{left:579.3,top:883.3,width:428.4,height:205.7}],
  advY:[-0.03075,0.64575], advYTicks:cAdvYTicks,
  leg:{left:1041.7, top:890, gap:7.3, padTop:4.7, padBottom:6},
  section:sectionTitles[2], sectionY:826, subY:871, logitsX:[19.3,539], kY:1121.7, kX1:795
});
</script>
</body></html>
